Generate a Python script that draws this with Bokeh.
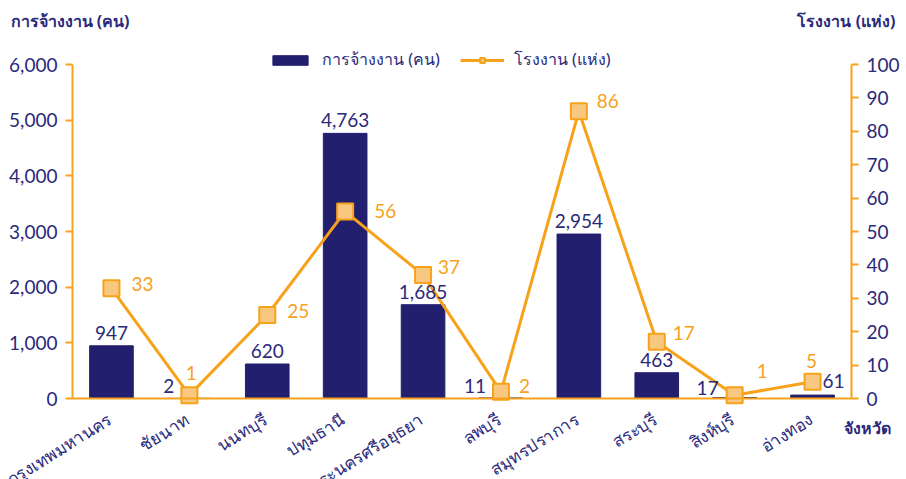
import math
from bokeh.plotting import figure
from bokeh.models import (Range1d, LinearAxis, FixedTicker, NumeralTickFormatter,
                          ColumnDataSource, LabelSet, Label, Legend, LegendItem)
from bokeh.core.properties import value
from bokeh.embed import file_html
from bokeh.resources import INLINE

# ---- data ----
provinces = ["กรุงเทพมหานคร", "ชัยนาท", "นนทบุรี", "ปทุมธานี", "พระนครศรีอยุธยา",
             "ลพบุรี", "สมุทรปราการ", "สระบุรี", "สิงห์บุรี", "อ่างทอง"]
employment = [947, 2, 620, 4763, 1685, 11, 2954, 463, 17, 61]
factories = [33, 1, 25, 56, 37, 2, 86, 17, 1, 5]
left_ticks = [0, 1000, 2000, 3000, 4000, 5000, 6000]
right_ticks = [0, 10, 20, 30, 40, 50, 60, 70, 80, 90, 100]
left_max, right_max = 6000, 100
left_title = "การจ้างงาน (คน)"
right_title = "โรงงาน (แห่ง)"
x_title = "จังหวัด"

# ---- label placement (screen px) ----
bar_align = ["center", "right", "center", "center", "center", "right", "center", "center", "right", "left"]
bar_dx = [0, -15, 0, 0, 0, -15, 0, 0, -16, 10]
bar_dy = [6, 5, 6, 6, 6, 5, 6, 6, 3, 7]
line_align = ["left", "center", "left", "left", "left", "left", "left", "left", "left", "center"]
line_dx = [20, 2, 20, 29, 15, 18, 18, 16, 22, -1]
line_dy = [4, 22, 4, 0, 8, 6, 10, 9, 24, 21]

NAVY = "#221F6F"
TEXT = "#2B2A7A"
ORANGE = "#F7A21B"
MFILL = "#F9C880"
NUMFONT = "Lato"
THAI = "Noto Sans"

# layout (px): the frame covers the whole canvas, the axes sit at these margins
W, H = 906, 479
PL, PR, PT, PB = 72, 55, 64, 81
plot_w, plot_h = W - PL - PR, H - PT - PB

n = len(provinces)
idx = list(range(n))
xpp = n / plot_w
lpp = left_max / plot_h
rpp = right_max / plot_h

src = ColumnDataSource(dict(
    x=idx, emp=employment, fac=factories, prov=provinces,
    emp_txt=[f"{v:,}" for v in employment], fac_txt=[str(v) for v in factories],
    bar_align=bar_align, bar_dx=bar_dx, bar_dy=bar_dy,
    line_align=line_align, line_dx=line_dx, line_dy=line_dy,
))

p = figure(width=W, height=H, output_backend="svg", toolbar_location=None,
           x_range=Range1d(-0.5 - PL * xpp, n - 0.5 + PR * xpp),
           y_range=Range1d(-PB * lpp, left_max + PT * lpp),
           min_border=0)
p.title.visible = False
p.outline_line_color = None
p.xgrid.grid_line_color = None
p.ygrid.grid_line_color = None
p.extra_y_ranges = {"right": Range1d(-PB * rpp, right_max + PT * rpp)}

# y axes, pinned at the ends of the category span
ax_l = p.yaxis[0]
ax_l.ticker = FixedTicker(ticks=left_ticks)
ax_l.formatter = NumeralTickFormatter(format="0,0")
ax_l.bounds = (0, left_max)
ax_l.fixed_location = -0.5
ax_r = LinearAxis(y_range_name="right", ticker=FixedTicker(ticks=right_ticks),
                  bounds=(0, right_max), fixed_location=n - 0.5)
p.add_layout(ax_r, "right")
for ax in [ax_l, ax_r]:
    ax.axis_line_color = ORANGE
    ax.axis_line_width = 2
    ax.major_tick_line_color = ORANGE
    ax.major_tick_line_width = 2
    ax.major_tick_out = 7
    ax.major_tick_in = 0
    ax.minor_tick_line_color = None
    ax.major_label_text_color = TEXT
    ax.major_label_text_font = NUMFONT
    ax.major_label_text_font_size = "19px"
    ax.major_label_standoff = 8

# baseline axis at y=0 (category names are drawn as rotated labels below)
xa = p.xaxis[0]
xa.ticker = FixedTicker(ticks=[])
xa.fixed_location = 0
xa.bounds = (-0.5, n - 0.5)
xa.axis_line_color = ORANGE
xa.axis_line_width = 2
xa.major_tick_line_color = None
xa.minor_tick_line_color = None
xa.major_label_text_font_size = "0px"

# glyphs
bars = p.vbar(x="x", top="emp", width=0.56, source=src, fill_color=NAVY, line_color=NAVY)
ln = p.line(x="x", y="fac", source=src, y_range_name="right", line_color=ORANGE, line_width=3)
mk = p.scatter(x="x", y="fac", source=src, y_range_name="right", marker="square", size=16,
               fill_color=MFILL, line_color=ORANGE, line_width=2)

# value labels
p.add_layout(LabelSet(x="x", y="emp", text="emp_txt", source=src, text_align="bar_align",
                      x_offset="bar_dx", y_offset="bar_dy", text_baseline="alphabetic",
                      text_color=TEXT, text_font=value(NUMFONT), text_font_size="19px"))
p.add_layout(LabelSet(x="x", y="fac", text="fac_txt", source=src, y_range_name="right",
                      text_align="line_align", x_offset="line_dx", y_offset="line_dy",
                      text_baseline="middle", text_color=ORANGE, text_font=value(NUMFONT),
                      text_font_size="19px"))

# category names, rotated, ending under each category
p.add_layout(LabelSet(x="x", y=0, text="prov", source=src, angle=math.radians(32),
                      text_align="right", text_baseline="middle", x_offset=-2, y_offset=-19,
                      text_color=TEXT, text_font=value(THAI), text_font_size="17px"))

# axis titles
p.add_layout(Label(x=-0.5, y=left_max, x_offset=-62, y_offset=44, text=left_title,
                   text_baseline="middle", text_align="left", text_color=TEXT,
                   text_font=THAI, text_font_size="16px", text_font_style="bold"))
p.add_layout(Label(x=n - 0.5, y=left_max, x_offset=44, y_offset=44, text=right_title,
                   text_baseline="middle", text_align="right", text_color=TEXT,
                   text_font=THAI, text_font_size="16px", text_font_style="bold"))
p.add_layout(Label(x=n - 0.5, y=0, x_offset=-8, y_offset=-29, text=x_title,
                   text_baseline="middle", text_align="left", text_color=TEXT,
                   text_font=THAI, text_font_size="16px", text_font_style="bold"))

# legend
legend = Legend(items=[LegendItem(label=left_title, renderers=[bars]),
                       LegendItem(label=right_title, renderers=[ln, mk])],
                orientation="horizontal", location=(268, PB + plot_h - 8), padding=0, margin=0,
                spacing=20, label_standoff=10, glyph_width=44, glyph_height=12,
                border_line_color=None, background_fill_alpha=0,
                label_text_color=TEXT, label_text_font=THAI, label_text_font_size="16px")
p.add_layout(legend)

open("out.html", "w").write(file_html(p, INLINE))
